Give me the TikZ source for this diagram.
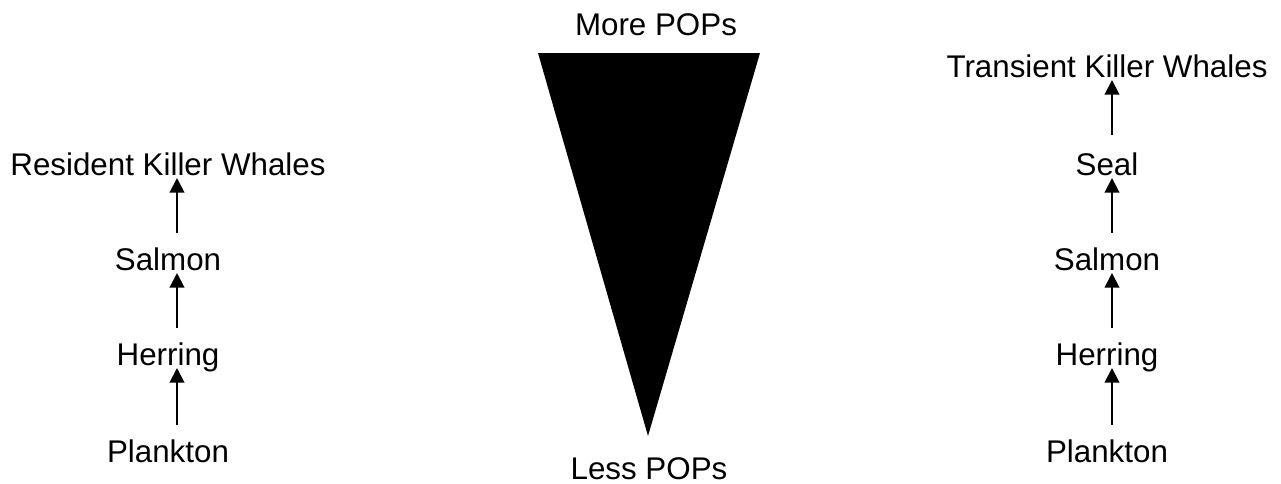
\documentclass[tikz,border=0pt]{standalone}
\usepackage{fontspec}
\setmainfont{Liberation Sans}
\usetikzlibrary{arrows.meta,calc}

\begin{document}
\begin{tikzpicture}[
      x=0.75pt, y=-0.75pt,
      label/.style={inner sep=0pt, anchor=base, font=\fontsize{23.5}{27}\selectfont},
      arrow/.style={-{Triangle[length=11pt, width=11pt]}, line width=1.5pt}
    ]
      \useasboundingbox (0,0) rectangle (1281,483);

      % POPs gradient
      \node[label] (more) at (656,35)  {More POPs};
      \node[label] (less) at (649,479) {Less POPs};
      \fill (538,53) -- (760,53) -- (648,436) -- cycle;

      % resident food chain
      \node[label] (rkw)   at (168,175) {Resident Killer Whales};
      \node[label] (lsal)  at (168,270) {Salmon};
      \node[label] (lher)  at (168,365) {Herring};
      \node[label] (lpla)  at (168,462) {Plankton};

      \draw[arrow] ($(lsal.base)+(9,-37)$) -- ($(rkw.base)+(9,3)$);
      \draw[arrow] ($(lher.base)+(9,-37)$) -- ($(lsal.base)+(9,3)$);
      \draw[arrow] ($(lpla.base)+(9,-37)$) -- ($(lher.base)+(9,3)$);

      % transient food chain
      \node[label] (tkw)   at (1107,77)  {Transient Killer Whales};
      \node[label] (seal)  at (1107,175) {Seal};
      \node[label] (rsal)  at (1107,270) {Salmon};
      \node[label] (rher)  at (1107,365) {Herring};
      \node[label] (rpla)  at (1107,462) {Plankton};

      \draw[arrow] ($(seal.base)+(5,-40)$) -- ($(tkw.base)+(5,3)$);
      \draw[arrow] ($(rsal.base)+(5,-37)$) -- ($(seal.base)+(5,3)$);
      \draw[arrow] ($(rher.base)+(5,-37)$) -- ($(rsal.base)+(5,3)$);
      \draw[arrow] ($(rpla.base)+(5,-37)$) -- ($(rher.base)+(5,3)$);
    \end{tikzpicture}
\end{document}
